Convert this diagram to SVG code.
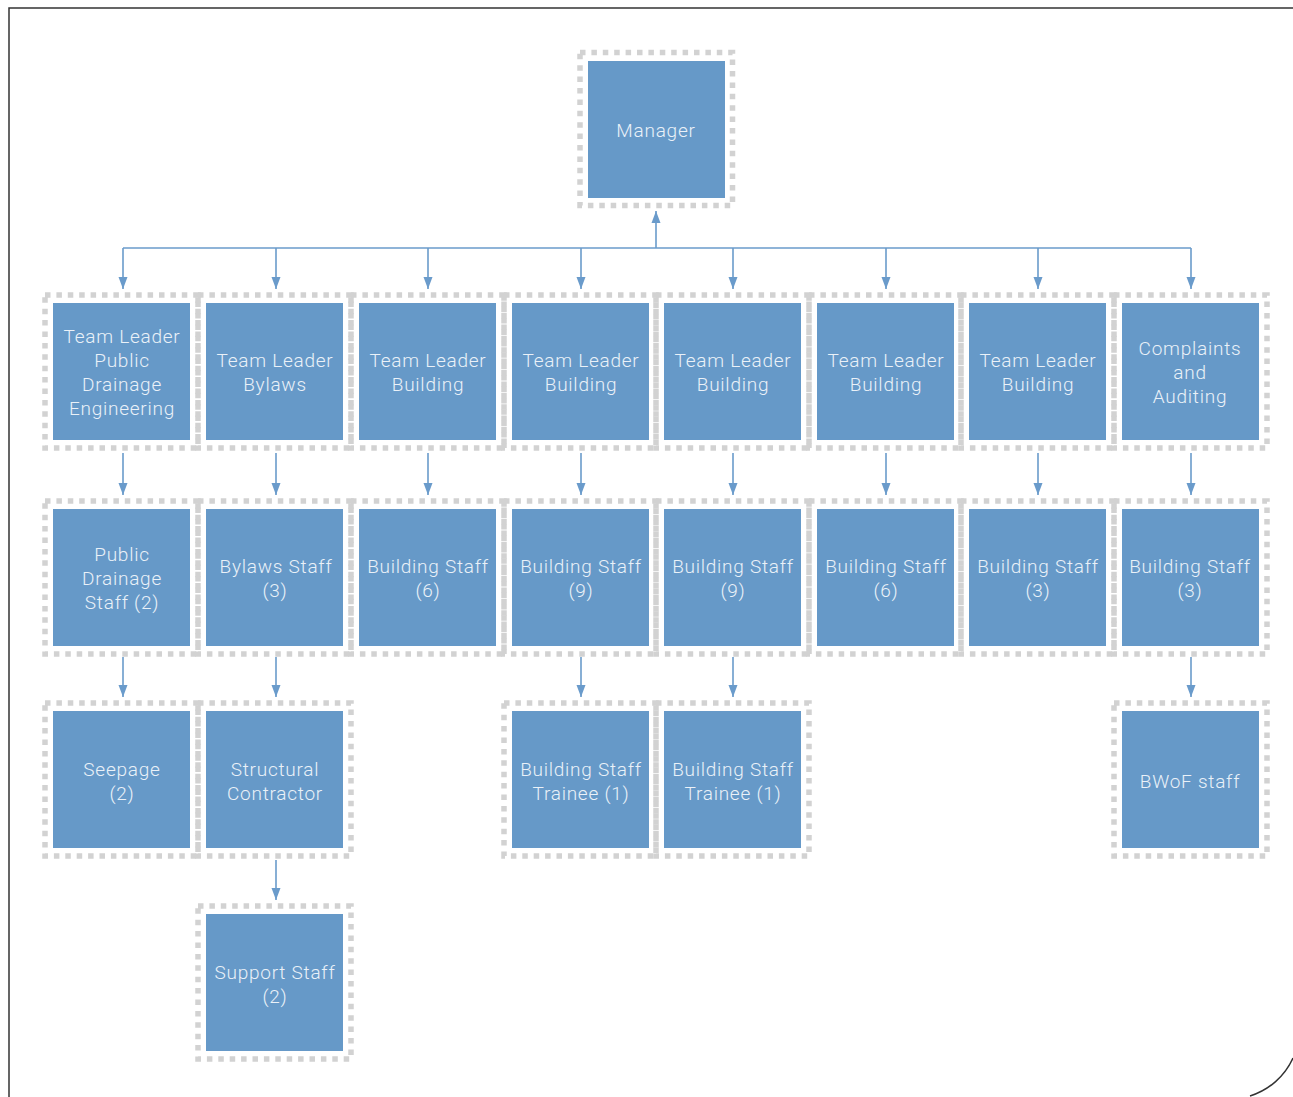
<svg xmlns="http://www.w3.org/2000/svg" width="1293" height="1097" viewBox="0 0 1293 1097">
<style>
.box{fill:#6699C8}
.dash{fill:none;stroke:#D2D2D2;stroke-width:5.5;stroke-dasharray:5.5 5.9}
.t{font-family:Roboto,"Liberation Sans",sans-serif;font-weight:300;font-size:19px;letter-spacing:0.75px;fill:#EAF1F8;text-anchor:middle}
.c{fill:none;stroke:#6A9BCB;stroke-width:1.6}
.frame{fill:none;stroke:#333;stroke-width:1.5}
</style>
<defs>
<marker id="ah" markerUnits="userSpaceOnUse" markerWidth="12" markerHeight="16" refX="16" refY="6" viewBox="0 0 16 12" orient="auto">
<path d="M0,0 L16,6 L0,12 z" fill="#6A9BCB"/>
</marker>
</defs>
<rect width="1293" height="1097" fill="#fff"/>
<path class="frame" d="M9,1097 L9,8 L1293,8"/>
<path class="frame" d="M1250,1096 A70,70 0 0 0 1293,1058"/>

<g id="connectors">
<line class="c" x1="123" y1="248" x2="1191" y2="248"/>
<line class="c" x1="656" y1="248" x2="656" y2="211" marker-end="url(#ah)"/>
<line class="c" x1="123" y1="248" x2="123" y2="289" marker-end="url(#ah)"/>
<line class="c" x1="276" y1="248" x2="276" y2="289" marker-end="url(#ah)"/>
<line class="c" x1="428" y1="248" x2="428" y2="289" marker-end="url(#ah)"/>
<line class="c" x1="581" y1="248" x2="581" y2="289" marker-end="url(#ah)"/>
<line class="c" x1="733" y1="248" x2="733" y2="289" marker-end="url(#ah)"/>
<line class="c" x1="886" y1="248" x2="886" y2="289" marker-end="url(#ah)"/>
<line class="c" x1="1038" y1="248" x2="1038" y2="289" marker-end="url(#ah)"/>
<line class="c" x1="1191" y1="248" x2="1191" y2="289" marker-end="url(#ah)"/>
<line class="c" x1="123" y1="453" x2="123" y2="495" marker-end="url(#ah)"/>
<line class="c" x1="276" y1="453" x2="276" y2="495" marker-end="url(#ah)"/>
<line class="c" x1="428" y1="453" x2="428" y2="495" marker-end="url(#ah)"/>
<line class="c" x1="581" y1="453" x2="581" y2="495" marker-end="url(#ah)"/>
<line class="c" x1="733" y1="453" x2="733" y2="495" marker-end="url(#ah)"/>
<line class="c" x1="886" y1="453" x2="886" y2="495" marker-end="url(#ah)"/>
<line class="c" x1="1038" y1="453" x2="1038" y2="495" marker-end="url(#ah)"/>
<line class="c" x1="1191" y1="453" x2="1191" y2="495" marker-end="url(#ah)"/>
<line class="c" x1="123" y1="657" x2="123" y2="697" marker-end="url(#ah)"/>
<line class="c" x1="276" y1="657" x2="276" y2="697" marker-end="url(#ah)"/>
<line class="c" x1="581" y1="657" x2="581" y2="697" marker-end="url(#ah)"/>
<line class="c" x1="733" y1="657" x2="733" y2="697" marker-end="url(#ah)"/>
<line class="c" x1="1191" y1="657" x2="1191" y2="697" marker-end="url(#ah)"/>
<line class="c" x1="276" y1="860" x2="276" y2="900" marker-end="url(#ah)"/>
</g>

<g id="manager"><rect class="dash" x="580" y="52.5" width="152.5" height="153"/><rect class="box" x="588" y="61" width="137" height="137"/><text class="t" x="656" y="137">Manager</text></g>

<g id="tl-drainage"><rect class="dash" x="45" y="295" width="153" height="153"/><rect class="box" x="53" y="303" width="137" height="137"/><text class="t" x="122" y="343">Team Leader</text><text class="t" x="122" y="367">Public</text><text class="t" x="122" y="391">Drainage</text><text class="t" x="122" y="415">Engineering</text></g>
<g id="tl-bylaws"><rect class="dash" x="198" y="295" width="153" height="153"/><rect class="box" x="206" y="303" width="137" height="137"/><text class="t" x="275" y="367">Team Leader</text><text class="t" x="275" y="391">Bylaws</text></g>
<g id="tl-building1"><rect class="dash" x="351" y="295" width="153" height="153"/><rect class="box" x="359" y="303" width="137" height="137"/><text class="t" x="428" y="367">Team Leader</text><text class="t" x="428" y="391">Building</text></g>
<g id="tl-building2"><rect class="dash" x="504" y="295" width="152" height="153"/><rect class="box" x="512" y="303" width="137" height="137"/><text class="t" x="581" y="367">Team Leader</text><text class="t" x="581" y="391">Building</text></g>
<g id="tl-building3"><rect class="dash" x="656" y="295" width="153" height="153"/><rect class="box" x="664" y="303" width="137" height="137"/><text class="t" x="733" y="367">Team Leader</text><text class="t" x="733" y="391">Building</text></g>
<g id="tl-building4"><rect class="dash" x="809" y="295" width="152" height="153"/><rect class="box" x="817" y="303" width="137" height="137"/><text class="t" x="886" y="367">Team Leader</text><text class="t" x="886" y="391">Building</text></g>
<g id="tl-building5"><rect class="dash" x="961" y="295" width="153" height="153"/><rect class="box" x="969" y="303" width="137" height="137"/><text class="t" x="1038" y="367">Team Leader</text><text class="t" x="1038" y="391">Building</text></g>
<g id="complaints"><rect class="dash" x="1114" y="295" width="153" height="153"/><rect class="box" x="1122" y="303" width="137" height="137"/><text class="t" x="1190" y="355">Complaints</text><text class="t" x="1190" y="379">and</text><text class="t" x="1190" y="403">Auditing</text></g>

<g id="drainage-staff"><rect class="dash" x="45" y="501" width="153" height="153"/><rect class="box" x="53" y="509" width="137" height="137"/><text class="t" x="122" y="561">Public</text><text class="t" x="122" y="585">Drainage</text><text class="t" x="122" y="609">Staff (2)</text></g>
<g id="bylaws-staff"><rect class="dash" x="198" y="501" width="153" height="153"/><rect class="box" x="206" y="509" width="137" height="137"/><text class="t" x="276" y="573">Bylaws Staff</text><text class="t" x="275" y="597">(3)</text></g>
<g id="bs6a"><rect class="dash" x="351" y="501" width="153" height="153"/><rect class="box" x="359" y="509" width="137" height="137"/><text class="t" x="428" y="573">Building Staff</text><text class="t" x="428" y="597">(6)</text></g>
<g id="bs9a"><rect class="dash" x="504" y="501" width="152" height="153"/><rect class="box" x="512" y="509" width="137" height="137"/><text class="t" x="581" y="573">Building Staff</text><text class="t" x="581" y="597">(9)</text></g>
<g id="bs9b"><rect class="dash" x="656" y="501" width="153" height="153"/><rect class="box" x="664" y="509" width="137" height="137"/><text class="t" x="733" y="573">Building Staff</text><text class="t" x="733" y="597">(9)</text></g>
<g id="bs6b"><rect class="dash" x="809" y="501" width="152" height="153"/><rect class="box" x="817" y="509" width="137" height="137"/><text class="t" x="886" y="573">Building Staff</text><text class="t" x="886" y="597">(6)</text></g>
<g id="bs3a"><rect class="dash" x="961" y="501" width="153" height="153"/><rect class="box" x="969" y="509" width="137" height="137"/><text class="t" x="1038" y="573">Building Staff</text><text class="t" x="1038" y="597">(3)</text></g>
<g id="bs3b"><rect class="dash" x="1114" y="501" width="153" height="153"/><rect class="box" x="1122" y="509" width="137" height="137"/><text class="t" x="1190" y="573">Building Staff</text><text class="t" x="1190" y="597">(3)</text></g>

<g id="seepage"><rect class="dash" x="45" y="703" width="153" height="153"/><rect class="box" x="53" y="711" width="137" height="137"/><text class="t" x="122" y="776">Seepage</text><text class="t" x="122" y="800">(2)</text></g>
<g id="structural"><rect class="dash" x="198" y="703" width="153" height="153"/><rect class="box" x="206" y="711" width="137" height="137"/><text class="t" x="275" y="776">Structural</text><text class="t" x="275" y="800">Contractor</text></g>
<g id="trainee1"><rect class="dash" x="504" y="703" width="152" height="153"/><rect class="box" x="512" y="711" width="137" height="137"/><text class="t" x="581" y="776">Building Staff</text><text class="t" x="581" y="800">Trainee (1)</text></g>
<g id="trainee2"><rect class="dash" x="656" y="703" width="153" height="153"/><rect class="box" x="664" y="711" width="137" height="137"/><text class="t" x="733" y="776">Building Staff</text><text class="t" x="733" y="800">Trainee (1)</text></g>
<g id="bwof"><rect class="dash" x="1114" y="703" width="153" height="153"/><rect class="box" x="1122" y="711" width="137" height="137"/><text class="t" x="1190" y="788">BWoF staff</text></g>

<g id="support"><rect class="dash" x="198" y="906" width="153" height="153"/><rect class="box" x="206" y="914" width="137" height="137"/><text class="t" x="275" y="979">Support Staff</text><text class="t" x="275" y="1003">(2)</text></g>
</svg>
